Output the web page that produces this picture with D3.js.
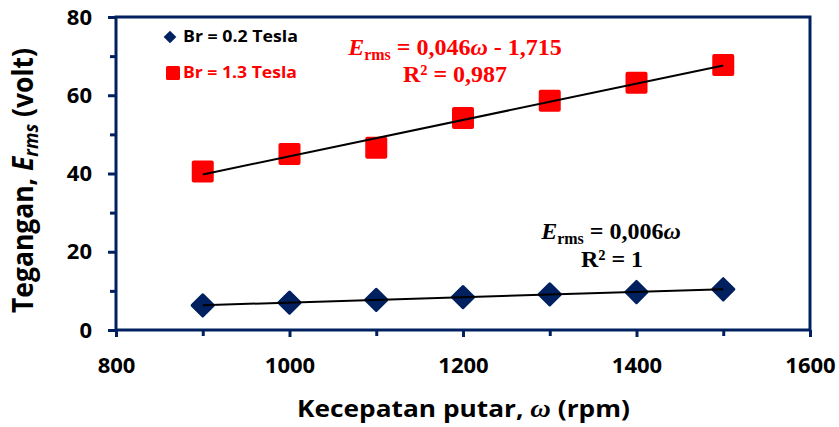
<!DOCTYPE html>
<html><head><meta charset="utf-8">
<script src="https://cdn.jsdelivr.net/npm/d3@7"></script>
<style>body{margin:0;background:#fff}svg{display:block}</style>
</head><body>
<script>
const rpm = [900, 1000, 1100, 1200, 1300, 1400, 1500];
const br02 = [6.3, 7.0, 7.7, 8.4, 9.1, 9.7, 10.4];
const br13 = [40.5, 45.0, 46.6, 54.2, 58.6, 63.2, 67.7];
const xTicks = [800, 1000, 1200, 1400, 1600];
const xMinor = [900, 1100, 1300, 1500];
const yTicks = [0, 20, 40, 60, 80];
const yMinor = [10, 30, 50, 70];
const seriesNames = ["Br = 0.2 Tesla", "Br = 1.3 Tesla"];

const W = 839, H = 427;
const m = {l:116, t:17, r:29, b:97};
const navy = "#002060", red = "#ff0000";
const svg = d3.select("body").append("svg").attr("width", W).attr("height", H);
const x = d3.scaleLinear().domain([800,1600]).range([m.l, W-m.r]);
const y = d3.scaleLinear().domain([0,80]).range([H-m.b, m.t]);
const sans = "'Open Sans', Lato, sans-serif";
const serif = "'Liberation Serif', 'Times New Roman', serif";

function fit(xs, ys){
  const n = xs.length, mx = d3.mean(xs), my = d3.mean(ys);
  let sxy=0, sxx=0;
  for(let i=0;i<n;i++){sxy+=(xs[i]-mx)*(ys[i]-my); sxx+=(xs[i]-mx)**2;}
  const b = sxy/sxx; return {b, a: my-b*mx};
}
function stretch(g, text, target, base){
  const w = text.node().getBBox().width;
  g.attr("transform", base + ` scale(${target/w},1)`);
}

// frame
svg.append("rect").attr("x", x(800)).attr("y", y(80)).attr("width", x(1600)-x(800)).attr("height", y(0)-y(80))
  .attr("fill","none").attr("stroke",navy).attr("stroke-width",3);

// y axis ticks
const yAx = svg.append("g").attr("transform",`translate(${x(800)},0)`)
  .call(d3.axisLeft(y).tickValues(yTicks).tickSize(8).tickPadding(16).tickFormat(d3.format("d")));
yAx.select(".domain").remove();
yAx.selectAll("line").attr("stroke",navy).attr("stroke-width",3);
yAx.selectAll("text").attr("font-family",sans).attr("font-weight","bold").attr("font-size",22).attr("fill","#000");
const yAm = svg.append("g").attr("transform",`translate(${x(800)},0)`)
  .call(d3.axisLeft(y).tickValues(yMinor).tickSize(6).tickFormat(""));
yAm.select(".domain").remove();
yAm.selectAll("line").attr("stroke",navy).attr("stroke-width",3);

// x axis ticks
const xAx = svg.append("g").attr("transform",`translate(0,${y(0)})`)
  .call(d3.axisBottom(x).tickValues(xTicks).tickSize(7).tickPadding(20).tickFormat(d3.format("d")));
xAx.select(".domain").remove();
xAx.selectAll("line").attr("stroke",navy).attr("stroke-width",3);
xAx.selectAll("text").attr("font-family",sans).attr("font-weight","bold").attr("font-size",22).attr("fill","#000");
const xAm = svg.append("g").attr("transform",`translate(0,${y(0)})`)
  .call(d3.axisBottom(x).tickValues(xMinor).tickSize(6).tickFormat(""));
xAm.select(".domain").remove();
xAm.selectAll("line").attr("stroke",navy).attr("stroke-width",3);

// markers
const sq = 22, dia = 18;
svg.append("g").selectAll("rect").data(rpm.map((r,i)=>[r,br13[i]])).join("rect")
  .attr("x",d=>x(d[0])-sq/2).attr("y",d=>y(d[1])-sq/2).attr("width",sq).attr("height",sq)
  .attr("rx",2).attr("fill",red);
svg.append("g").selectAll("rect").data(rpm.map((r,i)=>[r,br02[i]])).join("rect")
  .attr("x",-dia/2).attr("y",-dia/2).attr("width",dia).attr("height",dia).attr("rx",1.5)
  .attr("transform",d=>`translate(${x(d[0])},${y(d[1])}) rotate(45)`).attr("fill",navy);

// trend lines
[br13, br02].forEach(ys=>{
  const f = fit(rpm, ys);
  const x0 = d3.min(rpm), x1 = d3.max(rpm);
  svg.append("line").attr("x1",x(x0)).attr("y1",y(f.a+f.b*x0)).attr("x2",x(x1)).attr("y2",y(f.a+f.b*x1))
    .attr("stroke","#000").attr("stroke-width",2);
});

// legend
const lg = svg.append("g");
lg.append("rect").attr("x",-4.5).attr("y",-4.5).attr("width",9).attr("height",9)
  .attr("transform","translate(170,37) rotate(45)").attr("fill",navy);
lg.append("text").attr("x",183).attr("y",42).text(seriesNames[0])
  .attr("textLength",115).attr("lengthAdjust","spacingAndGlyphs")
  .attr("font-family",sans).attr("font-weight","bold").attr("font-size",16).attr("fill","#000");
lg.append("rect").attr("x",166).attr("y",66).attr("width",14).attr("height",14).attr("rx",1.5).attr("fill",red);
lg.append("text").attr("x",183).attr("y",78).text(seriesNames[1])
  .attr("textLength",114).attr("lengthAdjust","spacingAndGlyphs")
  .attr("font-family",sans).attr("font-weight","bold").attr("font-size",16).attr("fill",red);

// equations
function eq(cx, cy, color, coef){
  const t = svg.append("text").attr("x",cx).attr("y",cy).attr("text-anchor","middle")
    .attr("font-family",serif).attr("font-weight","bold").attr("font-size",24).attr("fill",color);
  t.append("tspan").attr("font-style","italic").text("E");
  t.append("tspan").attr("font-size",16).attr("dy",5).text("rms");
  t.append("tspan").attr("dy",-5).text(" = " + coef[0]);
  t.append("tspan").attr("font-style","italic").text("ω");
  if(coef[1]) t.append("tspan").text(coef[1]);
}
eq(455, 55, red, ["0,046", " - 1,715"]);
svg.append("text").attr("x",455).attr("y",82).attr("text-anchor","middle").attr("font-family",serif)
  .attr("font-weight","bold").attr("font-size",24).attr("fill",red).text("R² = 0,987");
eq(611, 239, "#000", ["0,006", ""]);
svg.append("text").attr("x",612).attr("y",267).attr("text-anchor","middle").attr("font-family",serif)
  .attr("font-weight","bold").attr("font-size",24).attr("fill","#000").text("R² = 1");

// axis titles
const xg = svg.append("g");
const xt = xg.append("text").attr("x",0).attr("y",0).attr("text-anchor","middle")
  .attr("font-family",sans).attr("font-weight","bold").attr("font-size",24).attr("fill","#000");
xt.append("tspan").text("Kecepatan putar, ");
xt.append("tspan").attr("font-family",serif).attr("font-style","italic").attr("font-size",26).text("ω");
xt.append("tspan").text(" (rpm)");
stretch(xg, xt, 333, "translate(463.5,417)");

const yg = svg.append("g");
const yt = yg.append("text").attr("x",0).attr("y",0).attr("text-anchor","middle")
  .attr("font-family",sans).attr("font-weight","bold").attr("font-size",29).attr("fill","#000");
yt.append("tspan").text("Tegangan, ");
yt.append("tspan").attr("font-style","italic").text("E");
yt.append("tspan").attr("font-style","italic").attr("font-size",20).attr("dy",5).text("rms");
yt.append("tspan").attr("dy",-5).text(" (volt)");
stretch(yg, yt, 265, "translate(33,180.5) rotate(-90)");
</script>
</body></html>
